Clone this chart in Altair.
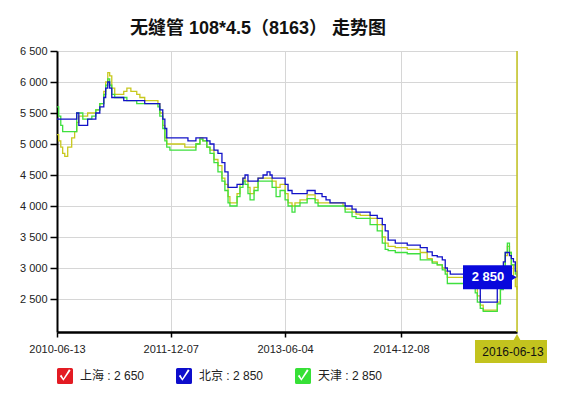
import altair as alt
import pandas as pd

# ---- data ----
dates = [
    "2010-06-13", "2010-06-21", "2010-07-01", "2010-07-10", "2010-07-20", "2010-08-03",
    "2010-08-22", "2010-09-05", "2010-09-15", "2010-09-25", "2010-10-14", "2010-11-06",
    "2010-11-26", "2010-12-15", "2011-01-03", "2011-01-22", "2011-01-31", "2011-02-10",
    "2011-02-19", "2011-03-01", "2011-03-15", "2011-04-08", "2011-04-27", "2011-05-12",
    "2011-05-31", "2011-06-28", "2011-07-13", "2011-08-05", "2011-10-07", "2011-10-16",
    "2011-10-30", "2011-11-09", "2011-11-18", "2011-12-03", "2012-02-12", "2012-02-27",
    "2012-03-22", "2012-04-05", "2012-04-24", "2012-05-08", "2012-05-27", "2012-06-11",
    "2012-06-30", "2012-07-19", "2012-08-07", "2012-08-21", "2012-09-05", "2012-09-14",
    "2012-09-28", "2012-10-18", "2012-11-01", "2012-11-15", "2012-11-25", "2012-12-09",
    "2012-12-19", "2013-01-07", "2013-01-26", "2013-02-19", "2013-03-10", "2013-03-24",
    "2013-04-03", "2013-04-22", "2013-05-11", "2013-06-04", "2013-06-18", "2013-07-07",
    "2013-07-21", "2013-08-14", "2013-09-17", "2013-10-10", "2013-10-25", "2013-11-08",
    "2013-11-27", "2013-12-16", "2014-01-04", "2014-03-07", "2014-03-17", "2014-04-19",
    "2014-05-08", "2014-05-28", "2014-07-14", "2014-08-17", "2014-09-10", "2014-09-24",
    "2014-10-08", "2014-11-11", "2015-01-07", "2015-03-10", "2015-04-12", "2015-05-06",
    "2015-05-30", "2015-06-23", "2015-07-07", "2015-07-17", "2015-07-31", "2015-11-13",
    "2015-11-27", "2015-12-07", "2015-12-21", "2016-01-04", "2016-03-02", "2016-03-11",
    "2016-03-26", "2016-04-09", "2016-04-18", "2016-04-28", "2016-05-08", "2016-05-17",
    "2016-05-27", "2016-06-05", "2016-06-13",
]

shanghai = [
    5150, 5050, 4950, 4850, 4800, 4950, 5100, 5200, 5350, 5450, 5450, 5500,
    5500, 5550, 5650, 5850, 6000, 6150, 6100, 5900, 5800, 5800, 5850, 5900,
    5850, 5800, 5750, 5700, 5650, 5500, 5300, 5100, 5000, 5000, 4950, 4950,
    4950, 5000, 5100, 5050, 4950, 4900, 4750, 4650, 4450, 4350, 4150, 4050,
    4050, 4200, 4350, 4450, 4400, 4300, 4200, 4300, 4450, 4450, 4450, 4450,
    4400, 4300, 4350, 4200, 4050, 4000, 4050, 4100, 4180, 4180, 4100, 4050,
    4050, 4050, 4050, 4000, 3950, 3900, 3870, 3850, 3800, 3700, 3500, 3400,
    3350, 3330, 3300, 3250, 3150, 3100, 3050, 3000, 2950, 2850, 2850, 2850,
    2700, 2550, 2400, 2320, 2320, 2450, 2700, 3000, 3200, 3350, 3250, 3050,
    2850, 2700, 2650,
]

beijing = [
    5400, 5400, 5400, 5400, 5400, 5400, 5400, 5400, 5500, 5300, 5300, 5400,
    5400, 5500, 5600, 5750, 5900, 6000, 5900, 5750, 5750, 5750, 5700, 5700,
    5700, 5700, 5700, 5650, 5650, 5550, 5400, 5250, 5100, 5100, 5100, 5050,
    5050, 5100, 5100, 5100, 5050, 5000, 4900, 4850, 4700, 4550, 4300, 4300,
    4300, 4350, 4350, 4450, 4500, 4400, 4400, 4400, 4450, 4500, 4550, 4500,
    4450, 4450, 4450, 4350, 4250, 4200, 4200, 4200, 4250, 4250, 4200, 4200,
    4150, 4100, 4050, 4050, 4000, 3950, 3900, 3900, 3850, 3800, 3700, 3600,
    3450, 3400, 3370, 3330, 3260, 3200, 3180, 3130, 3000, 2950, 2900, 2900,
    2800, 2700, 2450, 2450, 2450, 2700, 2900, 3100, 3250, 3250, 3200, 3150,
    3100, 2950, 2850,
]

tianjin = [
    5600, 5450, 5300, 5200, 5200, 5200, 5200, 5200, 5500, 5500, 5400, 5400,
    5450, 5550, 5650, 5800, 5950, 6050, 5950, 5800, 5750, 5750, 5750, 5700,
    5700, 5650, 5650, 5650, 5600, 5450, 5250, 5050, 4950, 4900, 4900, 4900,
    4900, 5000, 5080, 5050, 4950, 4850, 4700, 4550, 4400, 4250, 4050, 4000,
    4000, 4150, 4300, 4400, 4350, 4200, 4100, 4250, 4400, 4400, 4400, 4400,
    4300, 4150, 4250, 4100, 4000, 3900, 4000, 4050, 4120, 4120, 4050, 4000,
    4000, 4000, 4000, 4000, 3900, 3830, 3800, 3800, 3700, 3600, 3400, 3300,
    3280, 3250, 3230, 3130, 3130, 3080, 3050, 2970, 2900, 2750, 2750, 2750,
    2600, 2450, 2350, 2300, 2300, 2420, 2650, 3000, 3250, 3400, 3250, 3050,
    3050, 2900, 2850,
]

series_names = ["上海", "北京", "天津"]
series_colors = ["#c8c81e", "#1212c8", "#3ee03e"]
checkbox_colors = ["#e31b23", "#0d0dcc", "#36e036"]
y_ticks = [2500, 3000, 3500, 4000, 4500, 5000, 5500, 6000, 6500]
y_min = 1968
x_ticks = [(2010, 6, 13), (2011, 12, 7), (2013, 6, 4), (2014, 12, 8)]
end_label = "2016-06-13"
title_text = "无缝管 108*4.5（8163） 走势图"

FONT = "Liberation Sans, Arial, Noto Sans CJK SC"
OLIVE = "#c3c31e"


def fmt(v):
    return f"{v:,}".replace(",", " ")


rows = []
for name, vals in [("上海", shanghai), ("天津", tianjin), ("北京", beijing)]:
    for d, v in zip(dates, vals):
        rows.append({"date": d, "value": v, "series": name})
df = pd.DataFrame(rows)

last_vals = {"上海": shanghai[-1], "北京": beijing[-1], "天津": tianjin[-1]}
label_map = "{" + ",".join(f"'{k}':'{fmt(v)}'" for k, v in last_vals.items()) + "}"

df_tip = pd.DataFrame({"date": [dates[-1]], "value": [beijing[-1]], "label": [fmt(beijing[-1])]})
df_end = pd.DataFrame({"date": [dates[-1]], "value": [y_min], "label": [end_label]})

x_scale = alt.Scale(
    type="utc",
    domain=[alt.DateTime(year=2010, month=6, date=13, utc=True),
            alt.DateTime(year=2016, month=6, date=13, utc=True)],
)
x_enc = alt.X(
    "date:T",
    scale=x_scale,
    axis=alt.Axis(
        values=[alt.DateTime(year=y, month=m, date=d, utc=True) for y, m, d in x_ticks],
        labelExpr="utcFormat(datum.value, '%Y-%m-%d')",
        title=None,
        grid=True,
        gridColor="#d6d6d6",
        domainColor="black",
        domainWidth=2.5,
        tickColor="black",
        tickSize=5,
        tickWidth=1.5,
        labelPadding=6,
        labelFont=FONT,
        labelFontSize=11,
        labelColor="#222222",
        labelFlush=False,
        labelOverlap=False,
        tickCount=10,
    ),
)
y_enc = alt.Y(
    "value:Q",
    scale=alt.Scale(domain=[y_min, 6500], nice=False, zero=False),
    axis=alt.Axis(
        values=y_ticks,
        tickCount=20,
        labelExpr="replace(format(datum.value, ','), ',', ' ')",
        title=None,
        grid=True,
        gridColor="#d6d6d6",
        domainColor="black",
        domainWidth=2,
        tickColor="black",
        tickSize=7,
        tickWidth=1.5,
        labelPadding=3,
        labelFont=FONT,
        labelFontSize=11,
        labelColor="#222222",
        labelOverlap=False,
        labelFlush=False,
    ),
)

check_path = ("M-1,-0.8Q-1,-1,-0.8,-1H0.8Q1,-1,1,-0.8V0.8Q1,1,0.8,1H-0.8Q-1,1,-1,0.8Z"
              "M-0.65,0L-0.2,0.6L0.7,-0.7L0.5,-0.85L-0.2,0.3L-0.45,-0.15Z")

legend_def = alt.Legend(
    title=None,
    orient="none",
    legendX=0,
    legendY=317,
    direction="horizontal",
    symbolType=check_path,
    symbolSize=256,
    symbolOpacity=1,
    symbolStrokeWidth=0,
    labelOffset=7,
    columnPadding=28,
    padding=0,
    labelFont=FONT,
    labelFontSize=12,
    labelColor="#222222",
    labelExpr=f"datum.label + '  : ' + {label_map}[datum.label]",
)

lines = alt.Chart(df).mark_line(interpolate="step-after", strokeWidth=1.3).encode(
    x=x_enc,
    y=y_enc,
    color=alt.Color("series:N", scale=alt.Scale(domain=series_names, range=series_colors),
                    legend=legend_def),
)

legend_pts = alt.Chart(df).mark_point(filled=True, opacity=0, size=1).encode(
    x="date:T",
    y="value:Q",
    fill=alt.Fill("series:N", scale=alt.Scale(domain=series_names, range=checkbox_colors),
                  legend=legend_def),
)

end_rule = alt.Chart(df_end).mark_rule(color=OLIVE, strokeWidth=1.5).encode(x="date:T")

tip_box = alt.Chart(df_tip).mark_rect(
    color="#0808dc", xOffset=-54, x2Offset=-5, yOffset=-12, y2Offset=12
).encode(x="date:T", x2="date:T", y="value:Q", y2="value:Q")
tip_arrow = alt.Chart(df_tip).mark_point(
    shape="triangle-right", filled=True, color="#0808dc", opacity=1, size=70, xOffset=-4
).encode(x="date:T", y="value:Q")
tip_text = alt.Chart(df_tip).mark_text(
    color="white", fontWeight="bold", fontSize=13, font=FONT, xOffset=-29
).encode(x="date:T", y="value:Q", text="label:N")

end_box = alt.Chart(df_end).mark_rect(
    color=OLIVE, xOffset=-42, x2Offset=33, yOffset=8, y2Offset=31
).encode(x="date:T", x2="date:T", y="value:Q", y2="value:Q")
end_arrow = alt.Chart(df_end).mark_point(
    shape="triangle-up", filled=True, color=OLIVE, opacity=1, size=45, yOffset=5
).encode(x="date:T", y="value:Q")
end_text = alt.Chart(df_end).mark_text(
    color="#111111", fontSize=12, font=FONT, xOffset=-4, yOffset=20
).encode(x="date:T", y="value:Q", text="label:N")

chart = alt.layer(
    lines, legend_pts, end_rule, tip_box, tip_arrow, tip_text, end_box, end_arrow, end_text
).properties(
    width=460,
    height=281,
    autosize=alt.AutoSizeParams(type="none"),
    padding={"left": 49, "top": 43, "right": 30, "bottom": 55},
    title=alt.Title(
        title_text,
        font=FONT,
        fontSize=18,
        fontWeight="bold",
        color="#111111",
        anchor="middle",
        dx=-29,
        offset=7,
    ),
).configure_view(stroke=None).configure(background="white")

chart.save("out.html", embed_options={"renderer": "svg", "actions": False})
